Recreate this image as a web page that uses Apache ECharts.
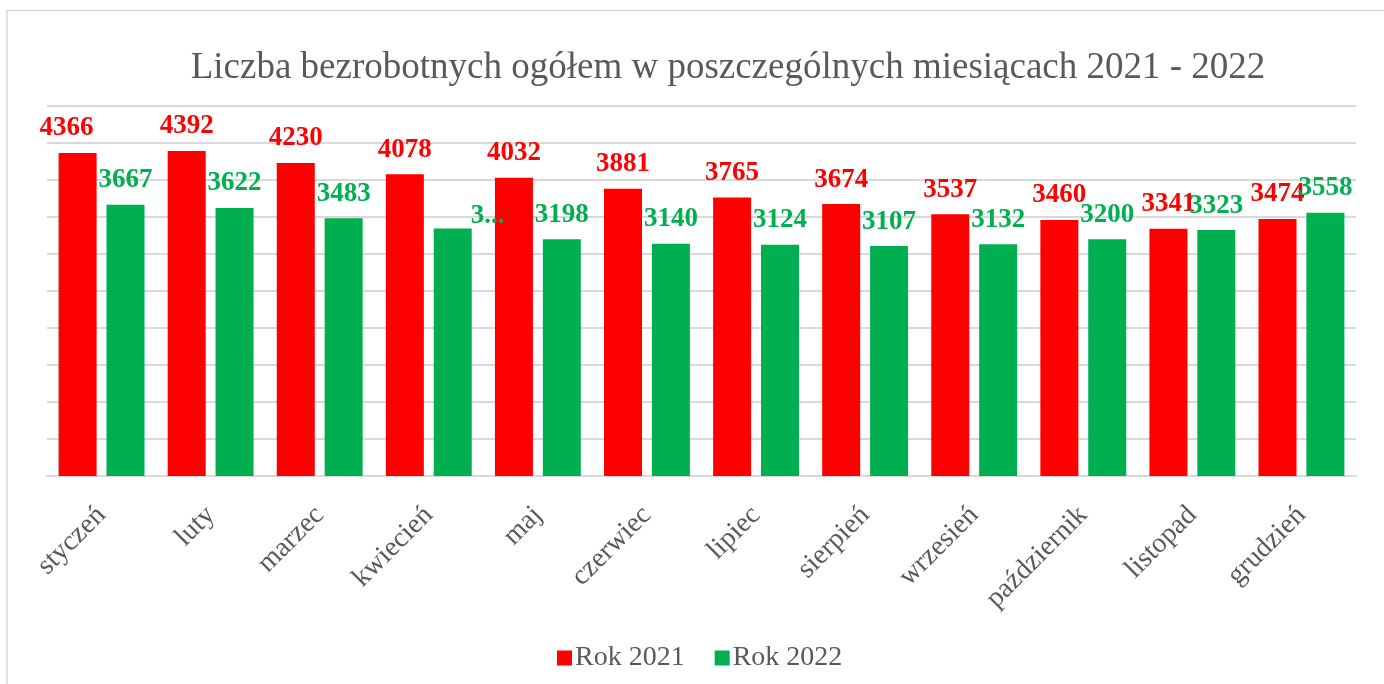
<html>
<head>
    <meta charset="utf-8">
    <title>Liczba bezrobotnych</title>
    <script src="https://cdn.jsdelivr.net/npm/echarts@6/dist/echarts.min.js"></script>
    <style>
        html, body { margin: 0; padding: 0; background: #fff; }
        #main { width: 1384px; height: 684px; }
    </style>
</head>
<body>
    <div id="main"></div>
    <script>
        // dane
        var MONTHS = ['styczeń', 'luty', 'marzec', 'kwiecień', 'maj', 'czerwiec',
            'lipiec', 'sierpień', 'wrzesień', 'październik', 'listopad', 'grudzień']
        var Y2021 = [4366, 4392, 4230, 4078, 4032, 3881, 3765, 3674, 3537, 3460, 3341, 3474]
        var Y2022 = [3667, 3622, 3483, 3345, 3198, 3140, 3124, 3107, 3132, 3200, 3323, 3558]
        // etykieta ucięta w oryginale (kwiecień 2022)
        var CUT_IDX = 3
        var CUT_TEXT = '3...'

        var FONT = "'Liberation Serif', 'Times New Roman', serif"
        var GRAY = '#595959'
        var RED = '#FF0000'
        var GREEN = '#00B050'

        // pierwsza etykieta przesunięta w lewo jak w oryginale
        var data2021 = Y2021.map((v, i) => i == 0
            ? { value: v, label: { offset: [-11, 0] } }
            : v)
        var data2022 = Y2022.map((v, i) => i == CUT_IDX
            ? { value: v, label: { formatter: CUT_TEXT, offset: [35, 12] } }
            : v)

        var chart = echarts.init(document.getElementById('main'))
        chart.setOption({
            backgroundColor: '#fff',
            animation: false,
            graphic: [{
                type: 'rect',
                shape: { x: 7, y: 10.5, width: 1500, height: 800 },
                style: { fill: 'none', stroke: '#d9d9d9', lineWidth: 1.5 },
                silent: true
            }],
            title: {
                text: 'Liczba bezrobotnych ogółem w poszczególnych miesiącach 2021 - 2022',
                left: 723,
                top: 45,
                textAlign: 'center',
                textStyle: { fontFamily: FONT, fontSize: 37, fontWeight: 'normal', color: GRAY }
            },
            legend: {
                left: 552,
                top: 639,
                icon: 'rect',
                itemWidth: 15,
                itemHeight: 15,
                itemGap: 30,
                textStyle: { fontFamily: FONT, fontSize: 28, color: GRAY, padding: [0, 0, 0, -2] }
            },
            grid: { left: 47, right: 28, top: 106, bottom: 208 },
            xAxis: {
                type: 'category',
                data: MONTHS,
                axisTick: { show: false },
                axisLine: { lineStyle: { color: '#d9d9d9', width: 2 } },
                axisLabel: {
                    rotate: 45,
                    margin: 35,
                    fontFamily: FONT,
                    fontSize: 28,
                    color: GRAY
                }
            },
            yAxis: {
                type: 'value',
                min: 0,
                max: 5000,
                interval: 500,
                axisLabel: { show: false },
                axisLine: { show: false },
                axisTick: { show: false },
                splitLine: { lineStyle: { color: '#d9d9d9', width: 2 } }
            },
            series: [{
                name: 'Rok 2021',
                type: 'bar',
                data: data2021,
                color: RED,
                barWidth: 38,
                barGap: '26%',
                label: {
                    show: true, position: 'top', distance: 11,
                    fontFamily: FONT, fontSize: 27, fontWeight: 'bold', color: RED
                }
            }, {
                name: 'Rok 2022',
                type: 'bar',
                data: data2022,
                color: GREEN,
                barWidth: 38,
                label: {
                    show: true, position: 'top', distance: 11,
                    fontFamily: FONT, fontSize: 27, fontWeight: 'bold', color: GREEN
                }
            }]
        })
    </script>
</body>
</html>
